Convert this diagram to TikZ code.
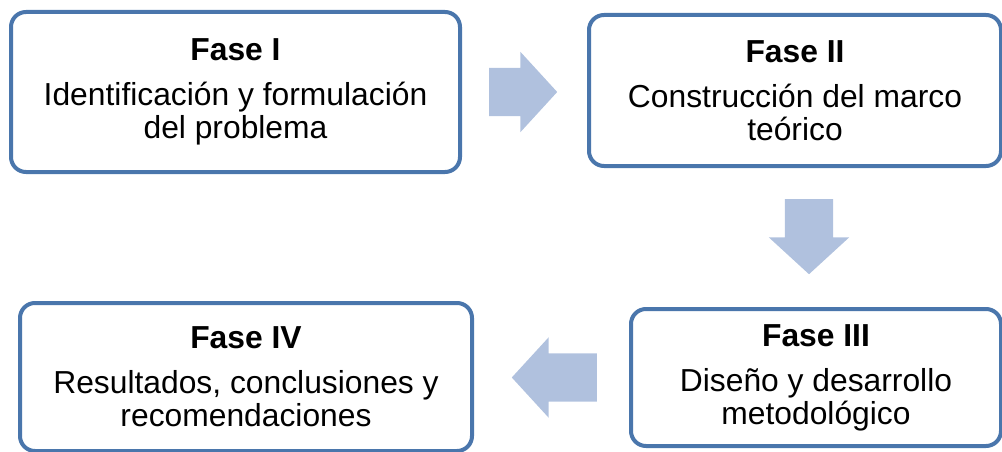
\documentclass[tikz,border=0pt]{standalone}
\usepackage{fontspec}
\setmainfont{Liberation Sans}
\usepackage{tikz}
\usetikzlibrary{calc}
\usetikzlibrary{positioning}
\usetikzlibrary{shapes.arrows}
\definecolor{borde}{RGB}{74,118,172}
\definecolor{relleno}{RGB}{176,193,222}
\tikzset{every picture/.style={x=1pt, y=-1pt}}
\tikzstyle{fase}   = [draw=borde, line width=4pt, rounded corners=15pt, fill=white, align=center, inner sep=0pt, font=\fontsize{31.8}{33}\selectfont]
\tikzstyle{flecha} = [single arrow, draw=none, fill=relleno, inner xsep=0pt, inner ysep=24pt, single arrow head extend=16pt, single arrow tip angle=95, anchor=tail]
\newcommand{\titulo}[1]{\textbf{#1}\\[12pt]}

\begin{document}
\begin{tikzpicture}
	\useasboundingbox (0,0) rectangle (1002,452);
	\node[fase, minimum width=449pt, minimum height=160pt] (I)   at (235.5,92)  {\titulo{Fase I}Identificación y formulación\\del problema};
	\node[fase, minimum width=412pt, minimum height=151pt] (II)  at (795,90.5)  {\titulo{Fase II}Construcción del marco\\teórico};
	\node[fase, minimum width=370pt, minimum height=137pt] (III) at (816,377.5) {\titulo{Fase III}Diseño y desarrollo\\metodológico};
	\node[fase, minimum width=452pt, minimum height=148pt] (IV)  at (246,377)   {\titulo{Fase IV}Resultados, conclusiones y\\recomendaciones};
	
	\node[flecha, minimum height=68pt] (f12) at ($(I.east)+(27,0)$) {};
	\node[flecha, minimum height=75pt, rotate=-90] (f23) at ($(II.south)+(14,31)$) {};
	\node[flecha, minimum height=85pt, rotate=180] (f34) at ($(III.west)+(-32,0)$) {};
\end{tikzpicture}
\end{document}
